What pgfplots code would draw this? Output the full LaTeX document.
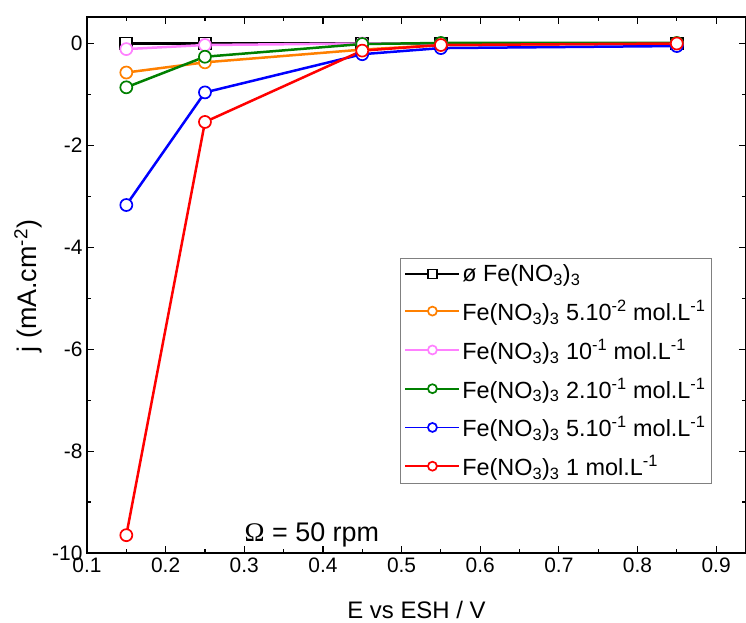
\documentclass[border=0pt]{standalone}
\usepackage{fontspec}
\setmainfont{Liberation Sans}
\newfontfamily\serif{Liberation Serif}
\usepackage{pgfplots}
\pgfplotsset{compat=1.18}
\definecolor{cOrange}{RGB}{255,128,0}
\definecolor{cPink}{RGB}{255,128,255}
\definecolor{cGreen}{RGB}{0,128,0}
\definecolor{cBlue}{RGB}{0,0,255}
\definecolor{cRed}{RGB}{255,0,0}
\begin{document}
\begin{tikzpicture}
\begin{axis}[
  scale only axis,
  width=659bp, height=536bp,
  xmin=0.1, xmax=0.938,
  ymin=-10, ymax=0.52,
  xtick={0.1,0.2,...,0.91},
  ytick={-10,-8,...,0},
  minor x tick num=1,
  minor y tick num=1,
  tick align=inside,
  major tick length=7bp,
  minor tick length=4bp,
  every tick/.style={black, line width=1.2bp},
  axis line style={line width=1.3bp},
  /pgf/number format/assume math mode=true,
  /pgf/number format/fixed,
  tick label style={font=\fontsize{21}{25}\selectfont},
  xticklabel style={yshift=-1bp},
  yticklabel style={xshift=-1bp},
  xlabel={E vs ESH / V},
  ylabel={j (mA.cm\textsuperscript{-2})},
  xlabel style={font=\fontsize{24}{28}\selectfont, at={(axis description cs:0.5,0)}, anchor=base, yshift=-65bp},
  ylabel style={font=\fontsize{27}{31}\selectfont, at={(axis description cs:-0.0895,0.498)}, anchor=center},
  legend style={at={(0.475,0.55)}, anchor=north west, draw=gray, line width=1pt,
    font=\fontsize{23.5}{27}\selectfont, row sep=13bp, inner sep=4bp,
    cells={anchor=west}},
  legend image code/.code={\draw[mark repeat=2,mark phase=2,line width=1.8bp,mark size=4.5bp,#1] plot coordinates {(0bp,0bp) (27bp,0bp) (54bp,0bp)};},
  every axis plot/.append style={line width=2.5bp, mark size=6bp, mark options={fill=white, solid, line width=1.7bp}},
]
\coordinate (sw) at (rel axis cs:0,0);
\coordinate (ne) at (rel axis cs:1,1);
\addplot[black, mark=square*] coordinates {(0.15,0) (0.25,0) (0.45,0) (0.55,0) (0.85,0)};
\addlegendentry{ø Fe(NO\textsubscript{3})\textsubscript{3}}
\addplot[cOrange, mark=*] coordinates {(0.15,-0.57) (0.25,-0.37) (0.45,-0.12) (0.55,-0.03) (0.85,0)};
\addlegendentry{Fe(NO\textsubscript{3})\textsubscript{3} 5.10\textsuperscript{-2} mol.L\textsuperscript{-1}}
\addplot[cPink, mark=*] coordinates {(0.15,-0.11) (0.25,-0.03) (0.45,0) (0.55,0) (0.85,0)};
\addlegendentry{Fe(NO\textsubscript{3})\textsubscript{3} 10\textsuperscript{-1} mol.L\textsuperscript{-1}}
\addplot[cGreen, mark=*] coordinates {(0.15,-0.86) (0.25,-0.26) (0.45,-0.01) (0.55,0.01) (0.85,0.01)};
\addlegendentry{Fe(NO\textsubscript{3})\textsubscript{3} 2.10\textsuperscript{-1} mol.L\textsuperscript{-1}}
\addplot[cBlue, mark=*] coordinates {(0.15,-3.17) (0.25,-0.96) (0.45,-0.21) (0.55,-0.09) (0.85,-0.05)};
\addlegendentry{Fe(NO\textsubscript{3})\textsubscript{3} 5.10\textsuperscript{-1} mol.L\textsuperscript{-1}}
\addplot[cRed, mark=*] coordinates {(0.15,-9.65) (0.25,-1.54) (0.45,-0.14) (0.55,-0.03) (0.85,0)};
\addlegendentry{Fe(NO\textsubscript{3})\textsubscript{3} 1 mol.L\textsuperscript{-1}}
\node[anchor=base, font=\fontsize{27}{31}\selectfont] at (axis cs:0.386,-9.77) {{\serif Ω} = 50 rpm};
\end{axis}
\pgfresetboundingbox
\path ([shift={(-87bp,-69bp)}]sw) rectangle ([shift={(0bp,17bp)}]ne);
\end{tikzpicture}
\end{document}
